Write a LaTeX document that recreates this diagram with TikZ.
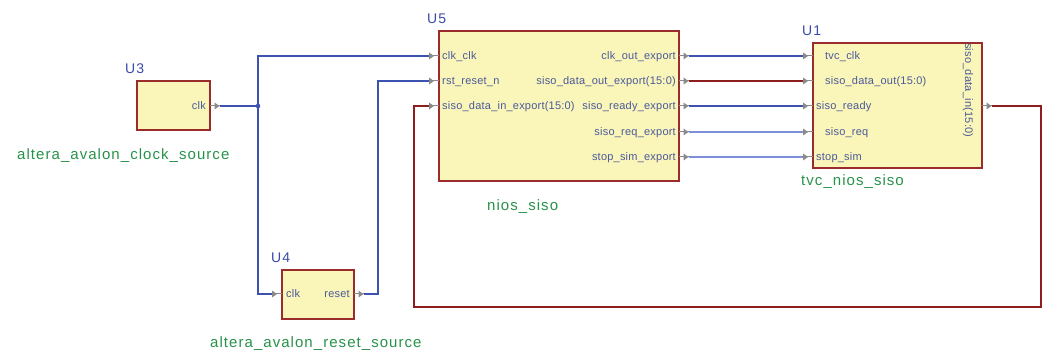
\documentclass[tikz,border=0pt]{standalone}
\usepackage{fontspec}
\setmainfont{Liberation Sans}
\newfontfamily\pinfont[LetterSpace=2]{Liberation Sans}
\newfontfamily\tagfont[LetterSpace=7]{Liberation Sans}

\definecolor{boxfill}{HTML}{FAF5B9}
\definecolor{boxred}{HTML}{9B2C2C}
\definecolor{pinblue}{HTML}{4A5A9A}
\definecolor{refblue}{HTML}{3A4AA8}
\definecolor{namegreen}{HTML}{27924A}
\definecolor{wireblue}{HTML}{3E52B2}
\definecolor{wirelight}{HTML}{7D8FD6}
\definecolor{busred}{HTML}{8E1E1E}
\definecolor{pingray}{HTML}{8A8A8A}

\tikzset{
  block/.style={draw=boxred, fill=boxfill, line width=1.2pt, inner sep=0, outer sep=0, anchor=north west},
  pinlabel/.style={font=\pinfont\fontsize{11}{13}\selectfont, text=pinblue, inner sep=0},
  reftag/.style={font=\tagfont\fontsize{14}{16}\selectfont, text=refblue, inner sep=0, anchor=base west},
  nametag/.style={font=\tagfont\fontsize{15}{18}\selectfont, text=namegreen, inner sep=0, anchor=base west},
  wire/.style={draw=wireblue, line width=1.1pt},
  wirefaint/.style={draw=wirelight, line width=1.5pt},
  bus/.style={draw=busred, line width=1.1pt},
  pinin/.pic={
    \draw[pingray, line width=1pt] (-10,0) -- (0,0);
    \fill[pingray] (-10,-3.5) -- (-5,0) -- (-10,3.5) -- cycle;
  },
  pinout/.pic={
    \draw[pingray, line width=1pt] (0,0) -- (10,0);
    \fill[pingray] (4.5,-3.5) -- (9.5,0) -- (4.5,3.5) -- cycle;
  }
}

\begin{document}
\begin{tikzpicture}[x=1pt, y=-1pt]
\useasboundingbox (0,0) rectangle (1045,358);

% ---------- blocks ----------
\node[block, minimum width=73pt, minimum height=49pt]  (u3) at (137,81) {};
\node[block, minimum width=72pt, minimum height=49pt]  (u4) at (282,270) {};
\node[block, minimum width=240pt, minimum height=150pt] (u5) at (439,31) {};
\node[block, minimum width=169pt, minimum height=125pt] (u1) at (813,43) {};

% ---------- reference designators ----------
\node[reftag] (u3ref) at (125,74)  {U3};
\node[reftag] (u4ref) at (271,263) {U4};
\node[reftag] (u5ref) at (427,24)  {U5};
\node[reftag] (u1ref) at (802,36)  {U1};

% ---------- component names ----------
\node[nametag] (u3name) at (17,160)  {altera\_avalon\_clock\_source};
\node[nametag] (u4name) at (210,348) {altera\_avalon\_reset\_source};
\node[nametag] (u5name) at (487,211) {nios\_siso};
\node[nametag] (u1name) at (801,186) {tvc\_nios\_siso};

% ---------- pin stubs ----------
\pic at (210,106) {pinout};
\pic at (282,294) {pinin};
\pic at (354,294) {pinout};
\foreach \y in {56,81,106} { \pic at (439,\y) {pinin}; }
\foreach \y in {56,81,106,132,157} { \pic at (679,\y) {pinout}; \pic at (813,\y) {pinin}; }
\pic at (982,106) {pinout};

% ---------- pin labels ----------
\node[pinlabel, anchor=base east] (l-u3clk) at (206,110) {clk};
\node[pinlabel, anchor=base west] (l-u4clk) at (286,298) {clk};
\node[pinlabel, anchor=base east] (l-u4rst) at (350,298) {reset};

\node[pinlabel, anchor=base west] (l-u5a) at (442,60)  {clk\_clk};
\node[pinlabel, anchor=base west] (l-u5b) at (442,85)  {rst\_reset\_n};
\node[pinlabel, anchor=base west] (l-u5c) at (442,110) {siso\_data\_in\_export(15:0)};
\node[pinlabel, anchor=base east] (l-u5d) at (676,60)  {clk\_out\_export};
\node[pinlabel, anchor=base east] (l-u5e) at (676,85)  {siso\_data\_out\_export(15:0)};
\node[pinlabel, anchor=base east] (l-u5f) at (676,110) {siso\_ready\_export};
\node[pinlabel, anchor=base east] (l-u5g) at (676,136) {siso\_req\_export};
\node[pinlabel, anchor=base east] (l-u5h) at (676,161) {stop\_sim\_export};

\node[pinlabel, anchor=base west] (l-u1a) at (825,60)  {tvc\_clk};
\node[pinlabel, anchor=base west] (l-u1b) at (825,85)  {siso\_data\_out(15:0)};
\node[pinlabel, anchor=base west] (l-u1c) at (816,110) {siso\_ready};
\node[pinlabel, anchor=base west] (l-u1d) at (825,136) {siso\_req};
\node[pinlabel, anchor=base west] (l-u1e) at (816,161) {stop\_sim};
\node[pinlabel, rotate=-90, anchor=west] (l-u1f) at (968,43) {siso\_data\_in(15:0)};

% ---------- connection points ----------
\coordinate (u3clk) at (220,106);
\coordinate (jclk)  at (258,106);
\coordinate (u4clk) at (272,294);
\coordinate (u4rst) at (364,294);
\coordinate (u5clk) at (429,56);
\coordinate (u5rst) at (429,81);
\coordinate (u5din) at (429,106);
\coordinate (u1dout) at (992,106);
\coordinate (loopR) at (1041,307);
\coordinate (loopL) at (414,307);
\foreach \i/\y in {1/56,2/81,3/106,4/132,5/157} {
  \coordinate (u5o\i) at (689,\y);
  \coordinate (u1i\i) at (803,\y);
}

% ---------- wires ----------
\draw[wire] (u3clk) -- (jclk);
\draw[wire] (u5clk) -| (jclk) |- (u4clk);
\fill[wireblue] (jclk) circle (2.3);
\draw[wire] (u4rst) -- ++(14,0) |- (u5rst);

\draw[wire] (u5o1) -- (u1i1);
\draw[bus]  (u5o2) -- (u1i2);
\draw[wire] (u5o3) -- (u1i3);
\draw[wirefaint] (u5o4) -- (u1i4);
\draw[wirefaint] (u5o5) -- (u1i5);

\draw[bus] (u1dout) -| (loopR) -- (loopL) |- (u5din);
\end{tikzpicture}
\end{document}
